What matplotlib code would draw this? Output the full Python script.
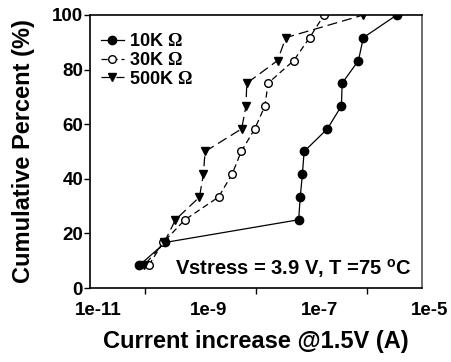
import matplotlib
matplotlib.use("Agg")
import matplotlib.pyplot as plt
import matplotlib.transforms as mtransforms
from matplotlib.ticker import FixedLocator, NullFormatter

plt.rcParams['font.family'] = ['Liberation Sans', 'DejaVu Sans']
plt.rcParams['font.weight'] = 'bold'
plt.rcParams['mathtext.fontset'] = 'custom'
plt.rcParams['mathtext.rm'] = 'Liberation Serif'
plt.rcParams['mathtext.bf'] = 'Liberation Sans:bold'

# cumulative percent levels (12 samples each)
pct = [8.3, 16.7, 25, 33.3, 41.7, 50, 58.3, 66.7, 75, 83.3, 91.7, 100]

# current increase (A) per resistance
cur_10k = [7.8e-11, 2.3e-10, 5.9e-8, 6.3e-8, 6.9e-8, 7.4e-8, 1.95e-7,
           3.5e-7, 3.6e-7, 7.1e-7, 8.7e-7, 3.5e-6]
cur_30k = [1.15e-10, 2.1e-10, 5.2e-10, 2.1e-9, 3.7e-9, 5.4e-9, 9.5e-9,
           1.45e-8, 1.65e-8, 4.8e-8, 9.3e-8, 1.7e-7]
cur_500k = [9.5e-11, 2.2e-10, 3.5e-10, 9.5e-10, 1.12e-9, 1.2e-9, 5.5e-9,
            6.6e-9, 6.8e-9, 2.45e-8, 3.45e-8, 8.7e-7]

labels = [r'10K $\Omega$', r'30K $\Omega$', r'500K $\Omega$']

fig = plt.figure(figsize=(4.51, 3.62), dpi=100)
ax = fig.add_axes([0.1996, 0.2044, 0.7361, 0.7542])

ax.plot(cur_10k, pct, color='black', linestyle='-', linewidth=0.9,
        marker='o', markersize=6, markerfacecolor='black', label=labels[0])
ax.plot(cur_30k, pct, color='black', linestyle=(0, (5, 3)), linewidth=0.9,
        marker='o', markersize=5.5, markerfacecolor='white', label=labels[1])
ax.plot(cur_500k, pct, color='black', linestyle=(0, (8, 4)), linewidth=0.9,
        marker='v', markersize=6, markerfacecolor='black', label=labels[2])

ax.set_xscale('log')
ax.set_xlim(1e-11, 1e-5)
ax.set_ylim(0, 100)

# labels at odd decades, tick marks in between
ax.xaxis.set_major_locator(FixedLocator([1e-11, 1e-9, 1e-7, 1e-5]))
ax.xaxis.set_minor_locator(FixedLocator([1e-10, 1e-8, 1e-6]))
ax.xaxis.set_minor_formatter(NullFormatter())
ax.set_xticklabels(['1e-11', '1e-9', '1e-7', '1e-5'])
ax.tick_params(axis='x', which='major', length=0, pad=10, labelsize=13.5)
ax.tick_params(axis='x', which='minor', length=4, width=1, direction='out')
shift = mtransforms.ScaledTranslation(8 / 100, 0, fig.dpi_scale_trans)
for lab in ax.get_xticklabels():
    lab.set_transform(lab.get_transform() + shift)

ax.set_yticks([0, 20, 40, 60, 80, 100])
ax.tick_params(axis='y', length=4, width=1, direction='out', labelsize=13.5, pad=1)

for s in ax.spines.values():
    s.set_linewidth(1.2)
ax.spines['right'].set_color('#555555')

ax.set_xlabel('Current increase @1.5V (A)', fontsize=17, fontweight='bold', labelpad=8)
ax.set_ylabel('Cumulative Percent (%)', fontsize=17, fontweight='bold', labelpad=12)

ax.legend(loc='upper left', frameon=False, fontsize=13, handlelength=1.3,
          handletextpad=0.3, labelspacing=0.1, borderaxespad=0.0,
          bbox_to_anchor=(0.01, 0.96))

ax.text(0.97, 0.073, r'Vstress = 3.9 V, T =75 $^{\mathbf{o}}$C', transform=ax.transAxes,
        ha='right', va='center', fontsize=14.5, fontweight='bold')

fig.savefig('out.png', dpi=100)
